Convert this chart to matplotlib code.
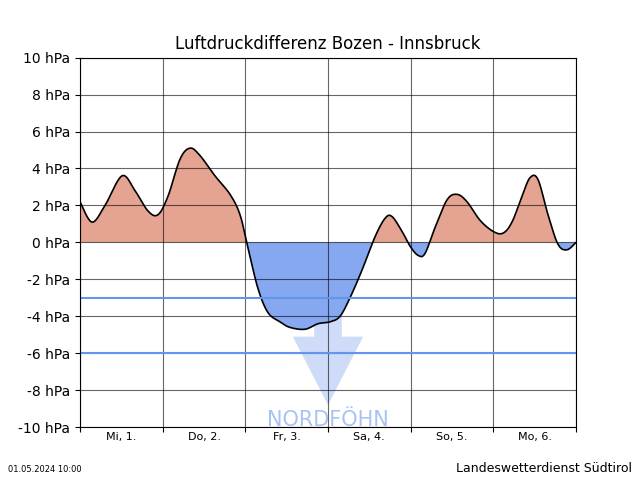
import numpy as np
import matplotlib.pyplot as plt
from matplotlib.patches import Polygon

# pixel-read curve, x converted to hours since start
px = [80, 92, 105, 122, 135, 148, 158, 168, 180, 190, 200, 215, 230, 240, 248, 258, 268, 280, 290, 305,
      318, 330, 340, 350, 362, 375, 385, 392, 402, 410, 418, 425, 435, 447, 457, 467, 480, 493, 503, 512,
      522, 530, 538, 548, 558, 567, 576]
dp = [2.2, 1.1, 2.0, 3.6, 2.8, 1.7, 1.5, 2.5, 4.5, 5.1, 4.7, 3.6, 2.6, 1.5, -0.3, -2.5, -3.8, -4.3, -4.6, -4.7,
      -4.4, -4.3, -4.0, -3.0, -1.5, 0.3, 1.3, 1.4, 0.6, -0.2, -0.7, -0.6, 0.8, 2.3, 2.6, 2.2, 1.2, 0.6, 0.5, 1.1,
      2.5, 3.5, 3.4, 1.5, -0.1, -0.4, 0.0]
hours = [(p - 80) / 496 * 144 for p in px]
days = ['Mi, 1.', 'Do, 2.', 'Fr, 3.', 'Sa, 4.', 'So, 5.', 'Mo, 6.']

# smooth curve via Catmull-Rom through the read points
def catmull(x, y, n=20):
    x = np.array(x); y = np.array(y)
    xs, ys = [], []
    P = np.column_stack([x, y])
    P = np.vstack([P[0], P, P[-1]])
    for i in range(1, len(P) - 2):
        t = np.linspace(0, 1, n, endpoint=False)[:, None]
        p0, p1, p2, p3 = P[i - 1], P[i], P[i + 1], P[i + 2]
        c = 0.5 * ((2 * p1) + (-p0 + p2) * t + (2 * p0 - 5 * p1 + 4 * p2 - p3) * t ** 2
                   + (-p0 + 3 * p1 - 3 * p2 + p3) * t ** 3)
        xs.append(c[:, 0]); ys.append(c[:, 1])
    xs.append([x[-1]]); ys.append([y[-1]])
    return np.concatenate(xs), np.concatenate(ys)

xs, ys = catmull(hours, dp)

fig, ax = plt.subplots(figsize=(6.4, 4.8), dpi=100)
ax.fill_between(xs, ys, 0, where=ys >= 0, interpolate=True, color='#e5a391', lw=0)
ax.fill_between(xs, ys, 0, where=ys <= 0, interpolate=True, color='#85a8f0', lw=0)
ax.plot(xs, ys, color='black', lw=1.2)
ax.axhline(-3, color='#6495ed', lw=1.5)
ax.axhline(-6, color='#6495ed', lw=1.5)

arrow = Polygon([(68, -3), (76, -3), (76, -5.1), (82.2, -5.1), (72, -8.8), (61.8, -5.1), (68, -5.1)],
                closed=True, color='#85a8f0', alpha=0.4, lw=0)
ax.add_patch(arrow)
ax.text(72, -9.6, 'NORDFÖHN', color='#85a8f0', alpha=0.7, fontsize=15, ha='center', va='center')

ax.set_xlim(0, 144)
ax.set_ylim(-10, 10)
ax.set_xticks(np.arange(0, 145, 24))
ax.set_xticklabels([])
ax.set_xticks(np.arange(12, 144, 24), minor=True)
ax.set_xticklabels(days, minor=True, fontsize=8)
ax.tick_params(axis='x', which='minor', length=0)
ax.set_yticks(np.arange(-10, 11, 2))
ax.set_yticklabels([f'{v} hPa' for v in range(-10, 11, 2)])
ax.grid(True, which='major', color='black', lw=0.8, alpha=0.6)
ax.set_title('Luftdruckdifferenz Bozen - Innsbruck')

fig.text(0.012, 0.017, '01.05.2024 10:00', fontsize=6)
fig.text(0.988, 0.017, 'Landeswetterdienst Südtirol', fontsize=9, ha='right')
fig.savefig('out.png')
